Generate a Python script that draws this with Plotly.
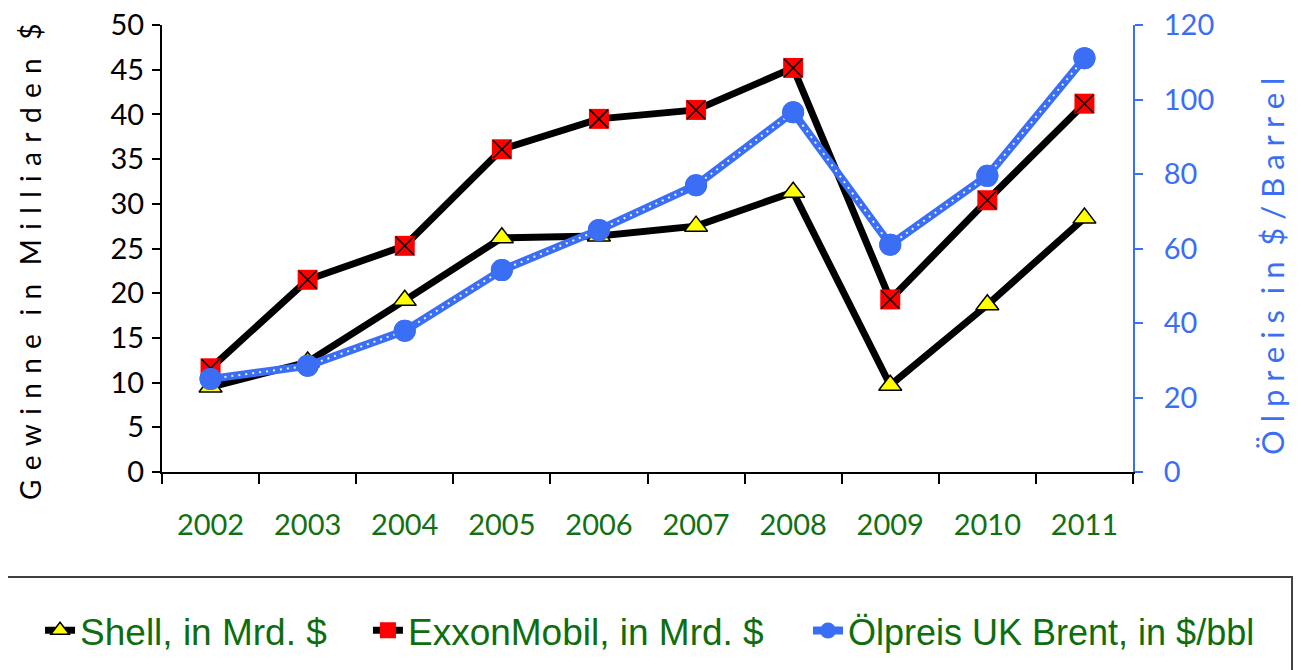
import plotly.graph_objects as go

years = ["2002", "2003", "2004", "2005", "2006", "2007", "2008", "2009", "2010", "2011"]
shell = [9.5, 12.3, 19.2, 26.2, 26.4, 27.5, 31.3, 9.7, 18.7, 28.4]
exxon = [11.6, 21.5, 25.3, 36.1, 39.5, 40.5, 45.2, 19.3, 30.4, 41.2]
brent = [25.0, 28.5, 37.9, 54.2, 65.0, 77.0, 96.6, 61.0, 79.5, 111.1]

left_ticks = [0, 5, 10, 15, 20, 25, 30, 35, 40, 45, 50]
right_ticks = [0, 20, 40, 60, 80, 100, 120]

BLUE = "#3A6EF5"
GREEN_TICK = "#127012"
GREEN_LEG = "#0E6E0E"
TICKFONT = "Lato, Open Sans, sans-serif"
LEGFONT = "Liberation Sans, Arial, sans-serif"

SP = "\u2004"


def spaced(text):
    words = text.split(" ")
    return (SP * 2).join(SP.join(list(w)) for w in words)


fig = go.Figure()

fig.add_trace(go.Scatter(
    x=years, y=shell, name="Shell, in Mrd. $", mode="lines+markers", legend="legend",
    line=dict(color="black", width=7),
    marker=dict(symbol="triangle-up", size=20, color="#FFFF00", line=dict(color="black", width=1.5)),
))
fig.add_trace(go.Scatter(
    x=years, y=exxon, name="ExxonMobil, in Mrd. $", mode="lines+markers", legend="legend2",
    line=dict(color="black", width=7),
    marker=dict(symbol="square", size=20, color="#FF0000", line=dict(width=0)),
))
fig.add_trace(go.Scatter(
    x=years, y=exxon, mode="markers", showlegend=False, hoverinfo="skip",
    marker=dict(symbol="x-thin", size=18, color="black", line=dict(color="black", width=1.5)),
))
fig.add_trace(go.Scatter(
    x=years, y=brent, name="Ölpreis UK Brent, in $/bbl", mode="lines+markers", yaxis="y2",
    legend="legend3",
    line=dict(color=BLUE, width=8),
    marker=dict(symbol="circle", size=22, color=BLUE),
))
fig.add_trace(go.Scatter(
    x=years, y=brent, mode="lines", yaxis="y2", showlegend=False, hoverinfo="skip",
    line=dict(color="rgba(255,255,255,0.9)", width=2, dash="2px,5px"),
))
fig.add_trace(go.Scatter(
    x=years, y=brent, mode="markers", yaxis="y2", showlegend=False, hoverinfo="skip",
    marker=dict(symbol="circle", size=22, color=BLUE),
))

leg_common = dict(
    orientation="h", y=-0.355, yanchor="middle", xanchor="left",
    bgcolor="rgba(0,0,0,0)", itemsizing="trace",
)

fig.update_layout(
    width=1301, height=670,
    margin=dict(l=154, r=176, t=17, b=206),
    paper_bgcolor="white", plot_bgcolor="white",
    showlegend=True,
    xaxis=dict(
        type="category", categoryorder="array", categoryarray=years,
        automargin=False,
        showline=True, linecolor="black", linewidth=2,
        ticks="outside", ticklen=10, tickwidth=2, tickcolor="black",
        tickson="boundaries", showgrid=False,
        tickfont=dict(family=TICKFONT, size=29, color=GREEN_TICK),
        ticklabelstandoff=26,
        range=[-0.5, 9.5],
    ),
    yaxis=dict(
        range=[0, 50], tickvals=left_ticks, showgrid=False, zeroline=False,
        automargin=False, ticklabeloverflow="allow",
        showline=True, linecolor="black", linewidth=2,
        ticks="outside", ticklen=8, tickwidth=2, tickcolor="black",
        tickfont=dict(family=TICKFONT, size=29, color="black"),
        ticklabelstandoff=2,
    ),
    yaxis2=dict(
        range=[0, 120], tickvals=right_ticks, overlaying="y", side="right",
        showgrid=False, zeroline=False, automargin=False, ticklabeloverflow="allow",
        showline=True, linecolor=BLUE, linewidth=2,
        ticks="outside", ticklen=8, tickwidth=2, tickcolor=BLUE,
        tickfont=dict(family=TICKFONT, size=29, color=BLUE),
        ticklabelstandoff=15,
    ),
    legend=dict(leg_common, x=-0.1256,
                font=dict(family=LEGFONT, size=37, color=GREEN_LEG)),
    legend2=dict(leg_common, x=0.2121,
                 font=dict(family=LEGFONT, size=37, color=GREEN_LEG)),
    legend3=dict(leg_common, x=0.6653,
                 font=dict(family=LEGFONT, size=36, color=GREEN_LEG)),
    annotations=[
        dict(text=spaced("Gewinne in Milliarden $"), xref="paper", yref="paper",
             x=-0.1359, y=0.4698, xanchor="center", yanchor="middle", textangle=-90,
             showarrow=False, font=dict(family=TICKFONT, size=28, color="black")),
        dict(text="Ö l p r e i s  i n  $ / B a r r e l", xref="paper", yref="paper",
             x=1.1432, y=0.4586, xanchor="center", yanchor="middle", textangle=-90,
             showarrow=False, font=dict(family=TICKFONT, size=31, color=BLUE)),
    ],
    shapes=[dict(type="rect", xref="paper", yref="paper",
                 x0=-0.2, x1=1.1638, y0=-0.235, y1=-0.6,
                 line=dict(color="#404040", width=2))],
)

fig.write_html("out.html", config={"displayModeBar": False})
